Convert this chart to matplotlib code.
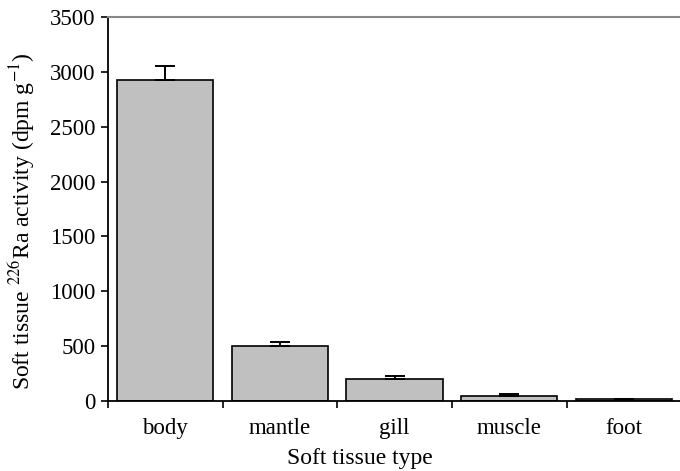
import matplotlib
matplotlib.use("Agg")
import matplotlib.pyplot as plt
import numpy as np

plt.rcParams["font.family"] = ["Liberation Serif", "DejaVu Serif"]
plt.rcParams["mathtext.fontset"] = "stix"

tissues = ["body", "mantle", "gill", "muscle", "foot"]
activity = [2930, 500, 198, 50, 15]
errors = [124, 35, 30, 10, 3]

fig = plt.figure(figsize=(6.8, 4.71), dpi=100)
ax = fig.add_axes([0.1588, 0.1486, 0.843, 0.8153])

x = np.arange(len(tissues))
ax.bar(x, activity, width=0.84, color="#c0c0c0", edgecolor="black",
       linewidth=1.2, zorder=2)
ax.errorbar(x, activity, yerr=[np.zeros(len(errors)), errors], fmt="none",
            ecolor="black", elinewidth=1.4, capsize=7, capthick=1.4, zorder=3)

ax.set_xlim(-0.5, len(tissues) - 0.5)
ax.set_ylim(0, 3500)
ax.set_yticks(np.arange(0, 3501, 500))
ax.set_xticks(x)
ax.set_xticklabels(tissues)
ax.set_xticks(np.arange(-0.5, len(tissues), 1.0), minor=True)
ax.tick_params(axis="x", which="major", length=0, labelsize=16.5, pad=12)
ax.tick_params(axis="x", which="minor", length=5, width=1.2, direction="out")
ax.tick_params(axis="y", length=5, width=1.2, direction="out", labelsize=16.5, pad=4)

ax.spines["right"].set_visible(False)
ax.spines["top"].set_color("#888888")
ax.spines["top"].set_linewidth(1.5)
ax.spines["left"].set_linewidth(1.3)
ax.spines["bottom"].set_linewidth(1.3)

ax.set_xlabel("Soft tissue type", fontsize=17)
ax.xaxis.set_label_coords(0.44, -0.122)
ax.set_ylabel("Soft tissue $^{226}$Ra activity (dpm g$^{-1}$)", fontsize=17)
ax.yaxis.set_label_coords(-0.124, 0.469)

fig.savefig("out.png", dpi=100)
